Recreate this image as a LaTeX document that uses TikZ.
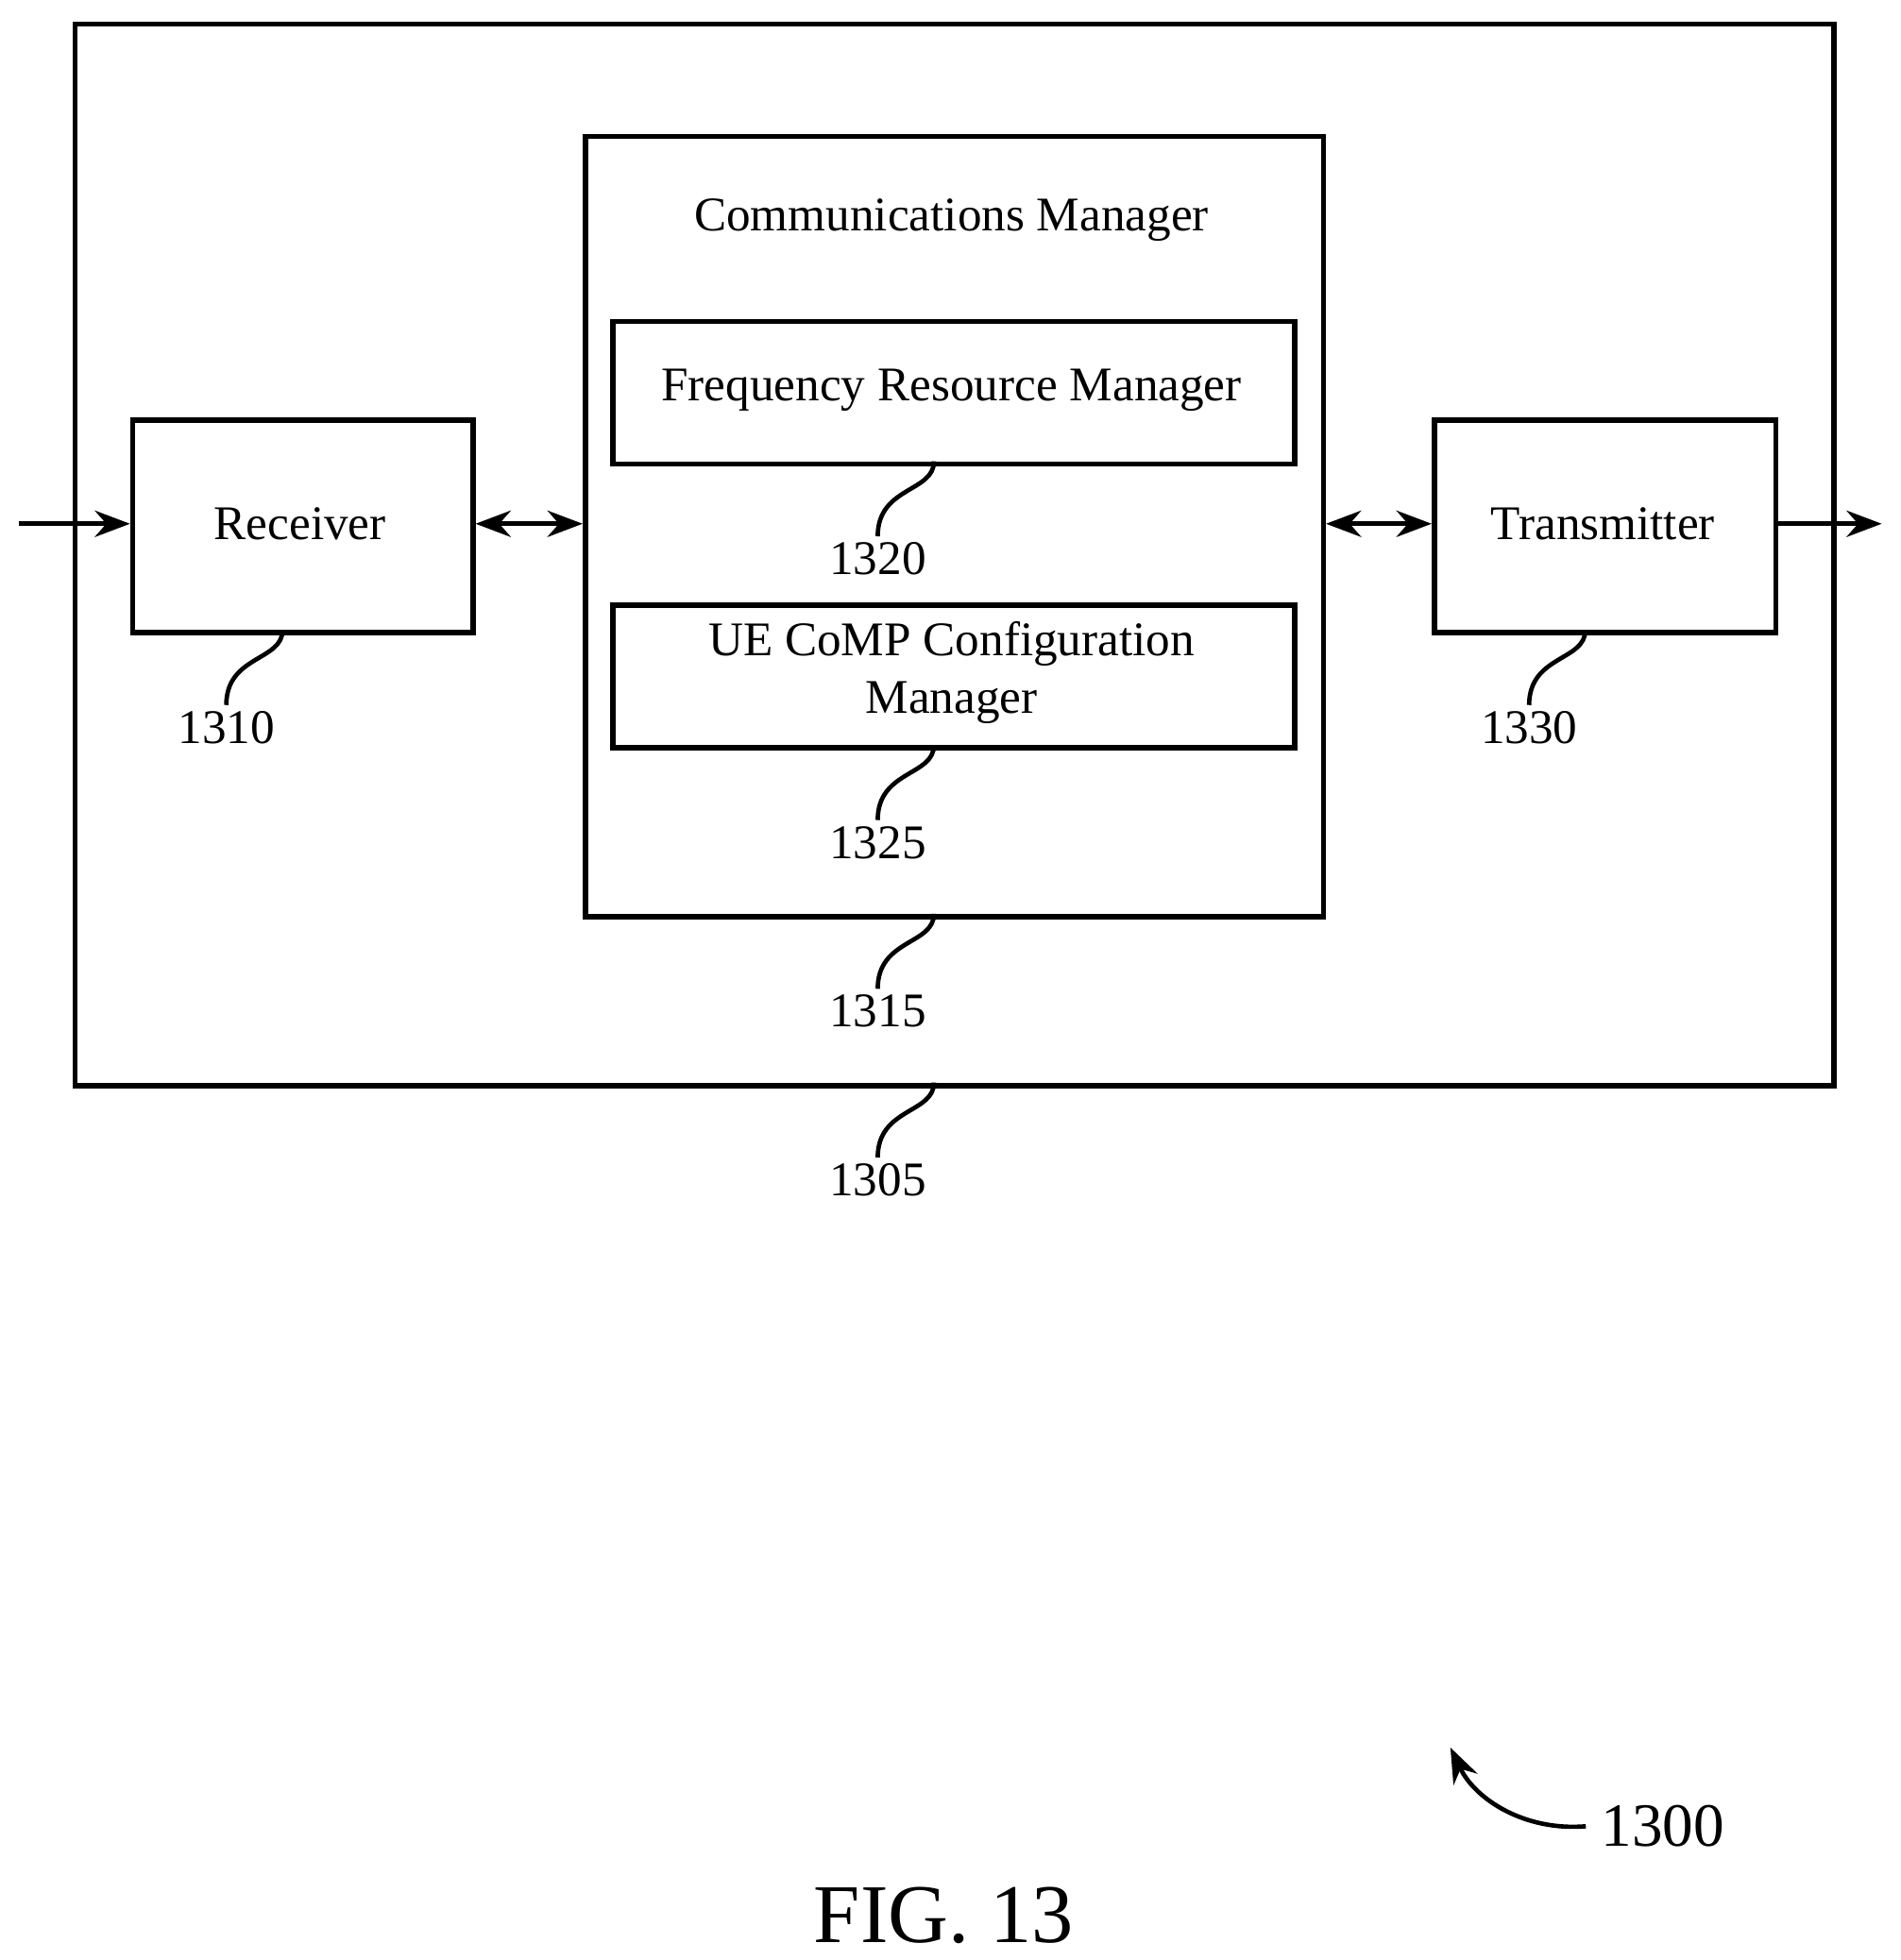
\documentclass[tikz,border=0pt]{standalone}
\usepackage{fontspec}
\setmainfont{Liberation Serif}
\usetikzlibrary{arrows.meta}
\begin{document}
\begin{tikzpicture}[x=0.01cm,y=-0.01cm,
box/.style={rectangle,draw=black,line width=1.2pt,anchor=north west,inner sep=0pt},
lbl/.style={font=\fontsize{11}{13}\selectfont},
lead/.style={line width=1pt},
conn/.style={line width=1pt,-{Stealth[length=8pt,width=6pt]}},
dconn/.style={line width=1pt,{Stealth[length=8pt,width=6pt]}-{Stealth[length=8pt,width=6pt]}}]

\useasboundingbox (0,0) rectangle (1520,1568);

% blocks
\node[box,minimum width=14.06cm,minimum height=8.49cm] (dev) at (58,17) {};
\node[box,minimum width=5.90cm,minimum height=6.24cm] (cm) at (466,107) {};
\node[lbl] (cmt) at (761,176) {Communications Manager};
\node[box,minimum width=5.45cm,minimum height=1.14cm] (frm) at (488,255) {};
\node[lbl] at (761,312) {Frequency Resource Manager};
\node[box,minimum width=5.45cm,minimum height=1.14cm] (ue) at (488,482) {};
\node[lbl,align=center] at (761,538) {UE CoMP Configuration\\Manager};
\node[box,minimum width=2.72cm,minimum height=1.70cm] (rx) at (104,334) {};
\node[lbl] at (240,419) {Receiver};
\node[box,minimum width=2.73cm,minimum height=1.70cm] (tx) at (1145,334) {};
\node[lbl] at (1282,419) {Transmitter};

\coordinate (in) at (15,419);
\coordinate (out) at (1505,419);

% connectors
\draw[conn] (in) -- (in-|rx.west);
\draw[dconn] (rx.east|-in) -- (cm.west|-in);
\draw[dconn] (cm.east|-in) -- (tx.west|-in);
\draw[conn] (tx.east|-out) -- (out);

% reference numerals
\foreach \nm/\x/\y/\t in {frm/747/369/1320, ue/747/596/1325, cm/747/731/1315, dev/747/866/1305, rx/226/504/1310, tx/1268/504/1330}{
  \node[lbl] (n\t) at (\x-45,\y+78) {\t};
  \draw[lead] (\x,\y) .. controls (\x,\y+25) and (\x-45,\y+20) .. (\x-45,\y+60);
}

\node[font=\fontsize{14}{16}\selectfont] (n1300) at (1330,1461) {1300};
\draw[line width=1pt,-{Stealth[length=8pt,width=6pt]}] (n1300.west) .. controls (1220,1465) and (1180,1440) .. (1160,1398);
\node[font=\fontsize{19}{22}\selectfont] (fig) at (755,1532) {FIG. 13};
\end{tikzpicture}
\end{document}
